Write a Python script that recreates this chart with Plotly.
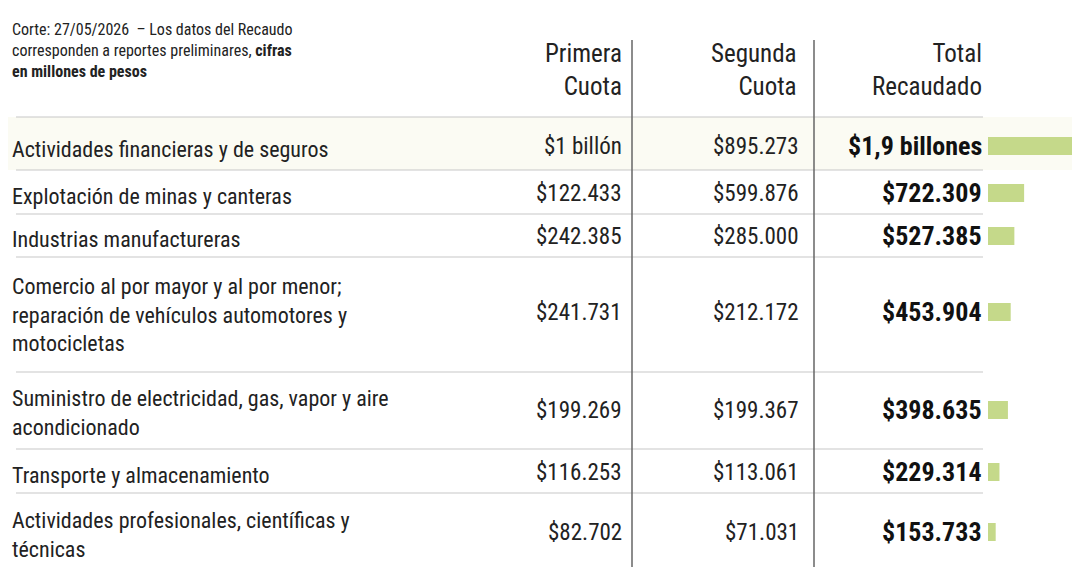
import plotly.graph_objects as go

categories = ["Actividades financieras y de seguros", "Explotación de minas y canteras",
              "Industrias manufactureras",
              "Comercio al por mayor y al por menor;<br>reparación de vehículos automotores y<br>motocicletas",
              "Suministro de electricidad, gas, vapor y aire<br>acondicionado",
              "Transporte y almacenamiento",
              "Actividades profesionales, científicas y<br>técnicas"]
primera = ["$1 billón", "$122.433", "$242.385", "$241.731", "$199.269", "$116.253", "$82.702"]
segunda = ["$895.273", "$599.876", "$285.000", "$212.172", "$199.367", "$113.061", "$71.031"]
total_lbl = ["$1,9 billones", "$722.309", "$527.385", "$453.904", "$398.635", "$229.314", "$153.733"]
total_val = [1900000, 722309, 527385, 453904, 398635, 229314, 153733]

row_centers = [138, 185, 228, 304, 402, 464, 524]
seps = [109, 162, 206, 249, 364, 441, 485, 563]
FONT = "Liberation Sans Narrow, Roboto Condensed, Roboto, sans-serif"

fig = go.Figure()
fig.add_trace(go.Bar(x=total_val, y=row_centers, orientation="h", width=18,
                     marker=dict(color="#c5d98a", line=dict(width=0)),
                     xaxis="x2", yaxis="y2", hoverinfo="skip"))

shapes = [dict(type="rect", xref="x", yref="y", x0=0, x1=1080, y0=109, y1=162,
               fillcolor="#fbfbf3", line=dict(width=0), layer="below")]
for s in seps:
    shapes.append(dict(type="line", xref="x", yref="y", x0=8, x1=975, y0=s, y1=s,
                       line=dict(color="#c8c8c8", width=1.2)))
for vx in [624, 806]:
    shapes.append(dict(type="line", xref="x", yref="y", x0=vx, x1=vx, y0=32, y1=567,
                       line=dict(color="#666", width=1.5)))

ann = []
ann.append(dict(x=2, y=10, xref="x", yref="y", xanchor="left", yanchor="top", align="left",
                text="Corte: 27/05/2026  – Los datos del Recaudo<br>corresponden a reportes preliminares, <b>cifras<br>en millones de pesos</b>",
                showarrow=False, font=dict(family=FONT, size=16, color="#222")))
for t, x in [("Primera<br>Cuota", 616), ("Segunda<br>Cuota", 791), ("Total<br>Recaudado", 976)]:
    ann.append(dict(x=x, y=62, xref="x", yref="y", xanchor="right", yanchor="middle", align="right",
                    text=t, showarrow=False, font=dict(family=FONT, size=25, color="#222")))
for i, yc in enumerate(row_centers):
    ann.append(dict(x=2, y=yc + 3, xref="x", yref="y", xanchor="left", yanchor="middle", align="left",
                    text=categories[i], showarrow=False, font=dict(family=FONT, size=22, color="#222")))
    ann.append(dict(x=616, y=yc, xref="x", yref="y", xanchor="right", yanchor="middle",
                    text=primera[i], showarrow=False, font=dict(family=FONT, size=23, color="#222")))
    ann.append(dict(x=793, y=yc, xref="x", yref="y", xanchor="right", yanchor="middle",
                    text=segunda[i], showarrow=False, font=dict(family=FONT, size=23, color="#222")))
    ann.append(dict(x=976, y=yc, xref="x", yref="y", xanchor="right", yanchor="middle",
                    text="<b>" + total_lbl[i] + "</b>", showarrow=False,
                    font=dict(family=FONT, size=26, color="#111")))

fig.update_layout(
    width=1080, height=567, margin=dict(l=0, r=0, t=0, b=0),
    paper_bgcolor="white", plot_bgcolor="rgba(0,0,0,0)", showlegend=False,
    xaxis=dict(range=[0, 1080], visible=False, domain=[0, 1]),
    xaxis2=dict(range=[0, 2000000], visible=False, domain=[980 / 1080, 1], anchor="y2"),
    yaxis=dict(range=[567, 0], visible=False),
    yaxis2=dict(range=[567, 0], visible=False, anchor="x2", domain=[0, 1]),
    shapes=shapes, annotations=ann,
)
fig.write_html("out.html")
